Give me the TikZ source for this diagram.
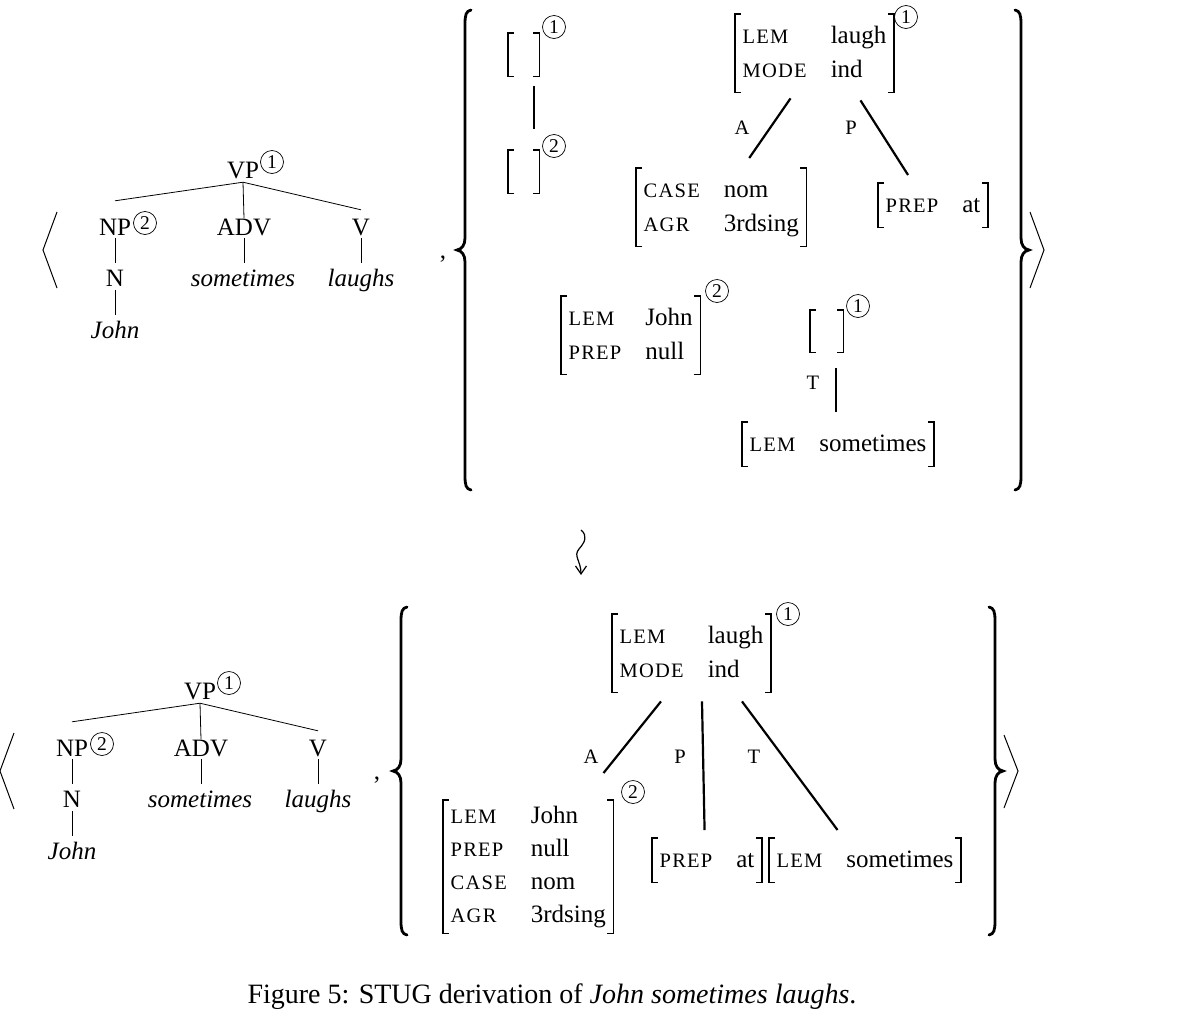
\documentclass[tikz,border=0pt]{standalone}
\usepackage{fontspec}
\setmainfont{Liberation Serif}
\newfontfamily\featfont[LetterSpace=6]{Liberation Serif}
\usetikzlibrary{calc,arrows.meta}

\newcommand\ft[1]{{\featfont\fontsize{20.5}{34}\selectfont #1}}
\newcommand\avmtab[1]{\begin{tabular}{@{}l@{\hspace{24pt}}l@{}}#1\end{tabular}}
\newcommand\brackets[1]{%
  \draw[brk] ([xshift=6pt]#1.north west) -- (#1.north west) -- (#1.south west) -- ([xshift=6pt]#1.south west);
  \draw[brk] ([xshift=-6pt]#1.north east) -- (#1.north east) -- (#1.south east) -- ([xshift=-6pt]#1.south east);}
\newcommand\mylbrace[4]{%
  \draw[brc] (#1+6,#2) .. controls (#1+1,#2+1) and (#1,#2+5) .. (#1,#2+14) -- (#1,#4-12)
    .. controls (#1,#4-5) and (#1-3,#4-1) .. (#1-8,#4)
    .. controls (#1-3,#4+1) and (#1,#4+5) .. (#1,#4+12) -- (#1,#3-14)
    .. controls (#1,#3-5) and (#1+1,#3-1) .. (#1+6,#3);}
\newcommand\myrbrace[4]{%
  \draw[brc] (#1-6,#2) .. controls (#1-1,#2+1) and (#1,#2+5) .. (#1,#2+14) -- (#1,#4-12)
    .. controls (#1,#4-5) and (#1+3,#4-1) .. (#1+8,#4)
    .. controls (#1+3,#4+1) and (#1,#4+5) .. (#1,#4+12) -- (#1,#3-14)
    .. controls (#1,#3-5) and (#1-1,#3-1) .. (#1-6,#3);}
\newcommand\stree[1]{%
  \node[tn] (#1vp) at (243,178) {VP};
  \node[cnum] (#1vpc) at (272,162) {1};
  \node[tn] (#1np) at (115,235) {NP};
  \node[cnum] (#1npc) at (145,223) {2};
  \node[tn] (#1adv) at (244,235) {ADV};
  \node[tn] (#1v) at (361,235) {V};
  \node[tn] (#1n) at (115,286) {N};
  \node[tn] (#1st) at (243,286) {\itshape sometimes};
  \node[tn] (#1lg) at (361,286) {\itshape laughs};
  \node[tn] (#1jn) at (115,338) {\itshape John};
  \draw[tl] ([yshift=-4pt]#1vp.south) -- ([yshift=17.5pt]#1np.north);
  \draw[tl] ([yshift=-4pt]#1vp.south) -- (#1adv.north);
  \draw[tl] ([yshift=-4pt]#1vp.south) -- ([yshift=8.5pt]#1v.north);
  \draw[tl] ([yshift=-3pt]#1np.south) -- ([yshift=6.5pt]#1n.north);
  \draw[tl] ([yshift=-3pt]#1adv.south) -- ([yshift=6.5pt]#1adv.south |- #1st.north);
  \draw[tl] ([yshift=-3pt]#1v.south) -- ([yshift=6.5pt]#1v.south |- #1lg.north);
  \draw[tl] ([yshift=-4pt]#1n.south) -- ([yshift=6.5pt]#1jn.north);
  \draw[ang] (57,212) -- (43,250) -- (57,288);}

\begin{document}
\begin{tikzpicture}[x=1pt,y=-1pt,
  font=\fontsize{25}{34}\selectfont,
  tn/.style={anchor=base,inner sep=0pt,text height=16.5pt,text depth=0pt},
  cnum/.style={circle,draw,line width=0.7pt,inner sep=0pt,minimum size=23pt,font=\fontsize{19.5}{19.5}\selectfont},
  tl/.style={line width=0.8pt},
  conn/.style={line width=2.2pt},
  brk/.style={line width=1.3pt},
  brc/.style={line width=2.8pt,line cap=round},
  ang/.style={line width=1pt},
  avm/.style={anchor=north west,inner xsep=7.5pt,inner ysep=5pt},
  ebox/.style={anchor=north west,inner sep=0pt,minimum width=31pt,minimum height=43pt},
  lab/.style={inner sep=0pt,font=\featfont\fontsize{20.5}{20}\selectfont}]
\useasboundingbox (0,0) rectangle (1184,1034);

% ---------- top row ----------
\stree{a}
\node[inner sep=0pt,anchor=base] (comma1) at (443,258) {,};
\mylbrace{465}{10}{490}{250}
\myrbrace{1021}{10}{490}{250}
\draw[ang] (1030,212) -- (1044,250) -- (1030,288);

\node[ebox] (e1) at (508,33) {};
\node[cnum] (e1c) at (554,27) {1};
\node[ebox] (e2) at (508,150) {};
\node[cnum] (e2c) at (554,146) {2};
\draw[conn] ([xshift=10pt,yshift=-10pt]e1.south) -- ([xshift=10pt,yshift=21pt]e2.north);

\node[avm] (t1) at (735,14) {\avmtab{\ft{LEM} & laugh\\ \ft{MODE} & ind}};
\node[cnum] (t1c) at (906,17) {1};
\node[avm] (c1) at (636,168) {\avmtab{\ft{CASE} & nom\\ \ft{AGR} & 3rdsing}};
\node[avm,inner ysep=5pt] (p1) at (878,183) {\avmtab{\ft{PREP} & at}};
\node[lab] (la1) at (742,128) {A};
\node[lab] (lp1) at (851,128) {P};
\draw[conn] ([xshift=-24pt,yshift=-6pt]t1.south) -- ([xshift=28pt,yshift=10pt]c1.north);
\draw[conn] ([xshift=46pt,yshift=-8pt]t1.south) -- ([xshift=-25pt,yshift=8pt]p1.north);

\node[avm] (j1) at (561,296) {\avmtab{\ft{LEM} & John\\ \ft{PREP} & null}};
\node[cnum] (j1c) at (717,291) {2};
\node[ebox,minimum width=33pt,minimum height=42pt] (e3) at (810,310) {};
\node[cnum] (e3c) at (858,306) {1};
\node[avm] (s1) at (742,422) {\avmtab{\ft{LEM} & sometimes}};
\node[lab] (lt1) at (813,383) {T};
\coordinate (tT) at ([xshift=9.5pt,yshift=-16pt]e3.south);
\draw[conn] (tT) -- ($(tT |- s1.north)+(0,-10)$);

\foreach \b in {e1,e2,t1,c1,p1,j1,e3,s1} {\brackets{\b}}

% ---------- squiggle ----------
\coordinate (sq0) at (581,530);
\coordinate (sq1) at (581,575);
\draw[line width=1.2pt,-{Straight Barb[length=8pt,width=11pt]}] (sq0) .. controls (588,536) and (585,542) .. (579,549) .. controls (573,556) and (581,561) .. (sq1);

% ---------- bottom row ----------
\begin{scope}[shift={(-43,521)}]
\stree{b}
\end{scope}
\node[inner sep=0pt,anchor=base] (comma2) at (377,779) {,};
\mylbrace{401}{607}{935}{771}
\myrbrace{995}{607}{935}{771}
\draw[ang] (1004,735) -- (1018,771) -- (1004,808);

\node[avm] (t2) at (612,614) {\avmtab{\ft{LEM} & laugh\\ \ft{MODE} & ind}};
\node[cnum] (t2c) at (788,614) {1};
\node[avm,inner ysep=0.5pt,font=\fontsize{25}{33}\selectfont] (b2) at (443,800) {\avmtab{\ft{LEM} & John\\ \ft{PREP} & null\\ \ft{CASE} & nom\\ \ft{AGR} & 3rdsing}};
\node[cnum] (b2c) at (633,792) {2};
\node[avm] (p2) at (652,838) {\avmtab{\ft{PREP} & at}};
\node[avm] (s2) at (769,838) {\avmtab{\ft{LEM} & sometimes}};
\node[lab] (la2) at (591,757) {A};
\node[lab] (lp2) at (680,757) {P};
\node[lab] (lt2) at (754,757) {T};
\draw[conn] ([xshift=-30.5pt,yshift=-9pt]t2.south) -- ([xshift=-10pt,yshift=27pt]b2.north east);
\draw[conn] ([xshift=10.5pt,yshift=-9pt]t2.south) -- ([xshift=-2.5pt,yshift=8pt]p2.north);
\draw[conn] ([xshift=50.5pt,yshift=-9pt]t2.south) -- ([xshift=-27.5pt,yshift=8pt]s2.north);

\foreach \b in {t2,b2,p2,s2} {\brackets{\b}}

% ---------- caption ----------
\node[anchor=base,inner sep=0pt,font=\fontsize{28}{34}\selectfont] (cap) at (552,1003) {Figure 5: STUG derivation of \textit{John sometimes laughs}.};
\end{tikzpicture}
\end{document}
